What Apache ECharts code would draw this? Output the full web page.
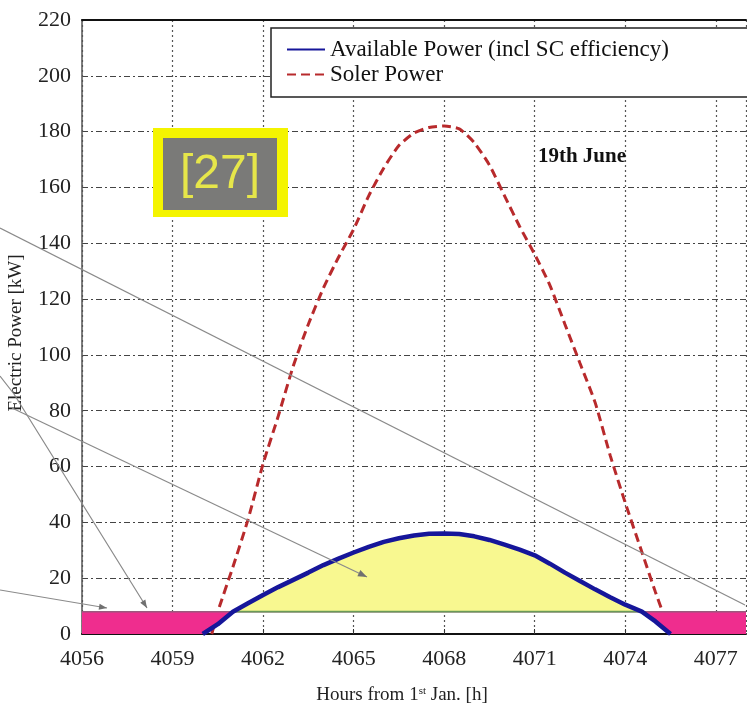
<!DOCTYPE html>
<html>
<head>
<meta charset="utf-8">
<script src="https://cdn.jsdelivr.net/npm/echarts@6/dist/echarts.min.js"></script>
<style>
  html, body { margin: 0; padding: 0; background: #fff; }
  #chart { width: 747px; height: 707px; }
</style>
</head>
<body>
<div id="chart"></div>
<script>
// Hours since 1st January, 19th June (one daylight period)
const xTicks = [4056, 4059, 4062, 4065, 4068, 4071, 4074, 4077];
const yTicks = [0, 20, 40, 60, 80, 100, 120, 140, 160, 180, 200, 220];

// Solar power reaching the array [kW]
const solarHours = [4060.3, 4060.5, 4061, 4061.5, 4062, 4062.5, 4063, 4063.5, 4064, 4064.5,
  4065, 4065.5, 4066, 4066.5, 4067, 4067.5, 4068, 4068.5, 4069, 4069.5, 4070, 4070.5,
  4071, 4071.5, 4072, 4072.5, 4073, 4073.5, 4074, 4074.5, 4075, 4075.5];
const solarKW = [0, 8, 24, 41, 61, 78, 96, 111, 124, 135, 145, 157, 167, 175, 179.5, 181.5,
  182, 181, 176, 168, 157, 146, 136, 125, 111, 97, 83, 64, 47, 31, 15, 0];

// Available electric power after solar-cell efficiency [kW]
const blueHours = [4060, 4060.5, 4061, 4061.5, 4062, 4062.5, 4063, 4063.5, 4064, 4064.5,
  4065, 4065.5, 4066, 4066.5, 4067, 4067.5, 4068, 4068.5, 4069, 4069.5, 4070, 4070.5,
  4071, 4071.5, 4072, 4072.5, 4073, 4073.5, 4074, 4074.55, 4075, 4075.5];
const blueKW = [0, 3.5, 8, 11, 14, 16.8, 19.4, 22, 24.7, 27, 29.2, 31.2, 33, 34.3, 35.3, 35.9,
  36, 35.8, 35, 33.7, 32, 30.2, 28.2, 25.2, 22, 19, 16, 13.2, 10.5, 8, 4.5, 0];

// Constant demand level [kW]
const demandKW = 8;
const xMin = 4056, xMax = 4078;

const serif = "'Liberation Serif', 'DejaVu Serif', serif";

// Derived tables for the shaded regions (filled towards the demand level)
const bandHours = [xMin].concat(blueHours, [xMax]);
const bandAvail = [0].concat(blueKW, [0]);
const deficitEdge = bandHours.map((h, i) => [h, Math.min(bandAvail[i], demandKW)]);
const surplusEdge = blueHours.map((h, i) => [h, Math.max(blueKW[i], demandKW)]);
const demandFull = [[xMin, demandKW], [xMax, demandKW]];
const demandMet = blueHours.map((h, i) => [h, blueKW[i]]).filter(p => p[1] >= demandKW).map(p => [p[0], demandKW]);
const solarData = solarHours.map((h, i) => [h, solarKW[i]]);
const blueData = blueHours.map((h, i) => [h, blueKW[i]]);

// Hand-drawn pointer lines around the plot
const grey = '#8a8a8a';
function arrowHead(x1, y1, x2, y2, len, half) {
  const a = Math.atan2(y2 - y1, x2 - x1);
  const bx = x2 - len * Math.cos(a), by = y2 - len * Math.sin(a);
  const nx = -Math.sin(a) * half, ny = Math.cos(a) * half;
  return { type: 'polygon', z: 20, shape: { points: [[x2, y2], [bx + nx, by + ny], [bx - nx, by - ny]] }, style: { fill: '#707070' } };
}
const pointers = [
  { type: 'polyline', z: 20, shape: { points: [[0, 228], [745, 605]] }, style: { stroke: grey, lineWidth: 1.2, fill: null } },
  { type: 'polyline', z: 20, shape: { points: [[12, 408], [367, 577]] }, style: { stroke: grey, lineWidth: 1.2, fill: null } },
  arrowHead(12, 408, 367, 577, 9, 3.5),
  { type: 'polyline', z: 20, shape: { points: [[0, 376], [14, 394], [27, 415], [147, 608]] }, style: { stroke: grey, lineWidth: 1.2, fill: null } },
  arrowHead(27, 415, 147, 608, 8, 3),
  { type: 'polyline', z: 20, shape: { points: [[0, 590], [107, 608]] }, style: { stroke: grey, lineWidth: 1.2, fill: null } },
  arrowHead(0, 590, 107, 608, 8, 3)
];

const chart = echarts.init(document.getElementById('chart'), null, { renderer: 'canvas' });
chart.setOption({
  backgroundColor: '#ffffff',
  animation: false,
  grid: { left: 82, top: 20, right: 1, bottom: 73, containLabel: false, outerBoundsMode: 'none' },
  legend: {
    data: ['Available Power (incl SC efficiency)', 'Soler Power'],
    orient: 'vertical',
    left: 281, top: 33,
    itemWidth: 38, itemHeight: 14, itemGap: 2,
    itemStyle: { opacity: 0 },
    z: 12,
    textStyle: { fontFamily: serif, fontSize: 23, color: '#111' }
  },
  xAxis: [{
    type: 'value', min: xMin, max: xMax, interval: 3,
    name: 'Hours from 1{sup|st} Jan. [h]',
    nameLocation: 'middle', nameGap: 52,
    nameTextStyle: {
      fontFamily: serif, fontSize: 19, color: '#222', padding: [0, 24, 0, 0],
      rich: { sup: { fontFamily: serif, fontSize: 11, color: '#222', verticalAlign: 'top', padding: [0, 0, 8, 0] } }
    },
    axisLine: { lineStyle: { color: '#111', width: 2 } },
    axisTick: { inside: true, length: 5, lineStyle: { color: '#333' } },
    axisLabel: { fontFamily: serif, fontSize: 22, color: '#222', margin: 14, showMaxLabel: false,
      formatter: v => (xTicks.indexOf(v) >= 0 ? String(v) : '') },
    splitLine: { show: true, lineStyle: { color: '#555', width: 1.2, type: [2, 3] } }
  }, {
    type: 'value', min: xMin, max: xMax, position: 'top',
    axisLine: { show: true, lineStyle: { color: '#111', width: 2 } },
    axisTick: { show: false }, axisLabel: { show: false }, splitLine: { show: false }
  }],
  yAxis: {
    type: 'value', min: 0, max: 220, interval: 20,
    name: 'Electric Power [kW]',
    nameLocation: 'middle', nameGap: 56,
    nameTextStyle: { fontFamily: serif, fontSize: 19, color: '#222', padding: [0, 12, 0, 0] },
    axisLine: { show: true, lineStyle: { color: '#555', width: 1.5 } },
    axisTick: { show: false },
    axisLabel: { fontFamily: serif, fontSize: 22, color: '#222', margin: 11,
      formatter: v => (yTicks.indexOf(v) >= 0 ? String(v) : '') },
    splitLine: { show: true, lineStyle: { color: '#444', width: 1, type: [6, 3, 2, 3] } }
  },
  series: [
    { name: 'surplus', type: 'line', data: surplusEdge, symbol: 'none', z: 1, silent: true,
      lineStyle: { width: 0, opacity: 0 }, areaStyle: { color: '#f8f890', opacity: 1, origin: demandKW } },
    { name: 'Soler Power', type: 'line', data: solarData, symbol: 'none', smooth: 0.2, z: 2,
      lineStyle: { color: '#b82a2c', width: 3, type: [9, 5] }, itemStyle: { color: '#b82a2c' } },
    { name: 'deficit', type: 'line', data: deficitEdge, symbol: 'none', z: 3, silent: true,
      lineStyle: { width: 0, opacity: 0 }, areaStyle: { color: '#ef2d8e', opacity: 1, origin: demandKW } },
    { name: 'demand', type: 'line', data: demandFull, symbol: 'none', z: 3, silent: true,
      lineStyle: { color: '#9a5a7e', width: 1.5 } },
    { name: 'demandMet', type: 'line', data: demandMet, symbol: 'none', z: 4, silent: true,
      lineStyle: { color: '#6a9a58', width: 1.8 } },
    { name: 'Available Power (incl SC efficiency)', type: 'line', data: blueData, symbol: 'none', z: 5,
      lineStyle: { color: '#16169a', width: 4.5 }, itemStyle: { color: '#16169a' } }
  ],
  graphic: [
    { type: 'rect', z: 10, shape: { x: 271, y: 28, width: 500, height: 69 },
      style: { fill: '#ffffff', stroke: '#222', lineWidth: 1.5 } },
    { type: 'rect', z: 15, shape: { x: 153, y: 128, width: 135, height: 89 }, style: { fill: '#f4f400' } },
    { type: 'rect', z: 16, shape: { x: 163, y: 138, width: 114, height: 72 }, style: { fill: '#7a7a78' } },
    { type: 'text', z: 17, x: 220, y: 175,
      style: { text: '[27]', fill: '#e6e64a', font: "48px 'Liberation Sans', sans-serif", textAlign: 'center', textVerticalAlign: 'middle' } },
    { type: 'text', z: 17, x: 582, y: 157,
      style: { text: '19th June', fill: '#111', font: "bold 21px 'Liberation Serif', serif", textAlign: 'center', textVerticalAlign: 'middle' } }
  ].concat(pointers)
});
</script>
</body>
</html>
